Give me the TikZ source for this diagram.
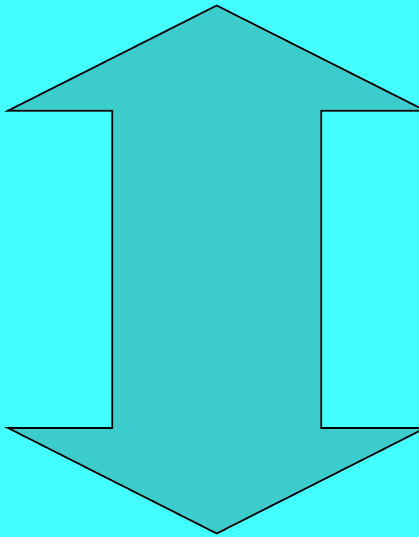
\documentclass[tikz,border=0pt]{standalone}
\definecolor{bgc}{HTML}{44FFFF}
\definecolor{arrowc}{HTML}{3CCCCC}
\begin{document}
\begin{tikzpicture}[x=1pt,y=-1pt,arrowshape/.style={fill=arrowc,draw=black,line width=1.7pt,line join=miter}]
\fill[bgc] (0,0) rectangle (419,537);
\useasboundingbox (0,0) rectangle (419,537);
\begin{scope}
\clip (0,0) rectangle (419,537);
\draw[arrowshape] (216.7,5.5) -- (425.4,110.7) -- (321.2,110.7) -- (321.2,428) -- (425.4,428) -- (216.7,533.5) -- (8,428) -- (112.2,428) -- (112.2,110.7) -- (8,110.7) -- cycle;
\end{scope}
\end{tikzpicture}
\end{document}
